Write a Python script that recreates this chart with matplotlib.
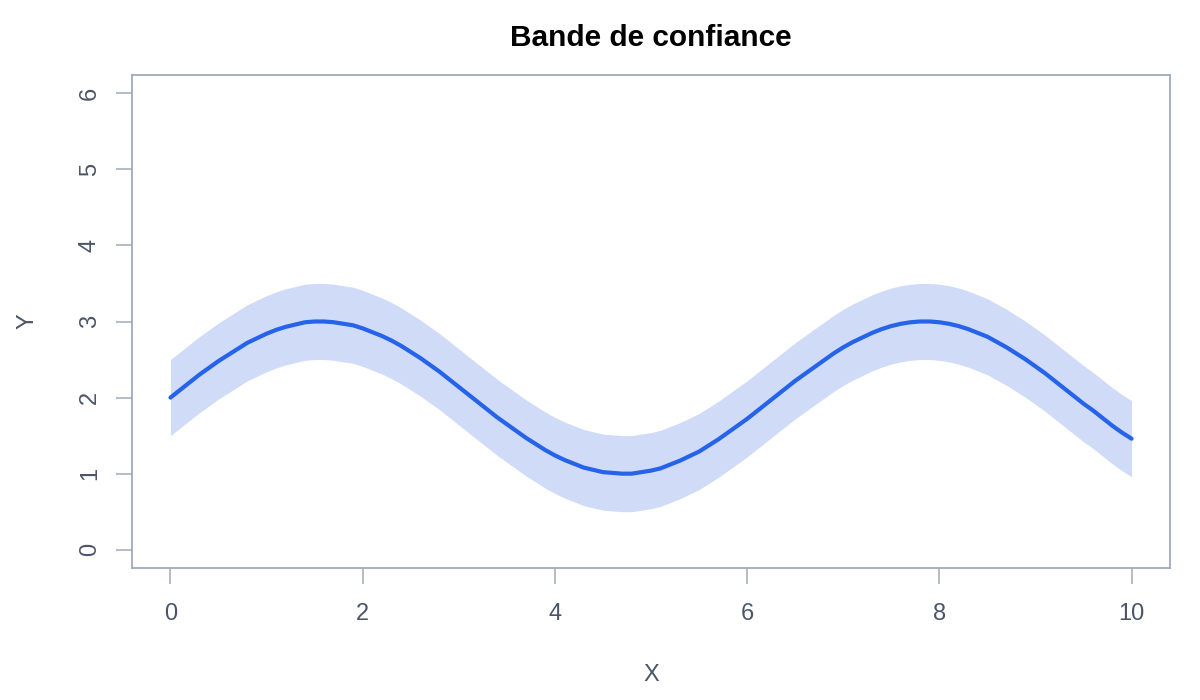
import matplotlib
matplotlib.use("Agg")
import matplotlib.pyplot as plt

plt.rcParams['font.family'] = ['Liberation Sans', 'DejaVu Sans']

x = [0.0, 0.1, 0.2, 0.3, 0.4, 0.5, 0.6, 0.7, 0.8, 0.9,
     1.0, 1.1, 1.2, 1.3, 1.4, 1.5, 1.6, 1.7, 1.8, 1.9,
     2.0, 2.1, 2.2, 2.3, 2.4, 2.5, 2.6, 2.7, 2.8, 2.9,
     3.0, 3.1, 3.2, 3.3, 3.4, 3.5, 3.6, 3.7, 3.8, 3.9,
     4.0, 4.1, 4.2, 4.3, 4.4, 4.5, 4.6, 4.7, 4.8, 4.9,
     5.0, 5.1, 5.2, 5.3, 5.4, 5.5, 5.6, 5.7, 5.8, 5.9,
     6.0, 6.1, 6.2, 6.3, 6.4, 6.5, 6.6, 6.7, 6.8, 6.9,
     7.0, 7.1, 7.2, 7.3, 7.4, 7.5, 7.6, 7.7, 7.8, 7.9,
     8.0, 8.1, 8.2, 8.3, 8.4, 8.5, 8.6, 8.7, 8.8, 8.9,
     9.0, 9.1, 9.2, 9.3, 9.4, 9.5, 9.6, 9.7, 9.8, 9.9,
     10.0]
y = [2.00, 2.10, 2.20, 2.30, 2.39, 2.48, 2.56, 2.64, 2.72, 2.78,
     2.84, 2.89, 2.93, 2.96, 2.99, 3.00, 3.00, 2.99, 2.97, 2.95,
     2.91, 2.86, 2.81, 2.75, 2.68, 2.60, 2.52, 2.43, 2.34, 2.24,
     2.14, 2.04, 1.94, 1.84, 1.74, 1.65, 1.56, 1.47, 1.39, 1.31,
     1.24, 1.18, 1.13, 1.08, 1.05, 1.02, 1.01, 1.00, 1.00, 1.02,
     1.04, 1.07, 1.12, 1.17, 1.23, 1.29, 1.37, 1.45, 1.54, 1.63,
     1.72, 1.82, 1.92, 2.02, 2.12, 2.22, 2.31, 2.40, 2.49, 2.58,
     2.66, 2.73, 2.79, 2.85, 2.90, 2.94, 2.97, 2.99, 3.00, 3.00,
     2.99, 2.97, 2.94, 2.90, 2.85, 2.80, 2.73, 2.66, 2.58, 2.50,
     2.41, 2.32, 2.22, 2.12, 2.02, 1.92, 1.83, 1.73, 1.63, 1.54,
     1.46]
lower = [1.50, 1.60, 1.70, 1.80, 1.89, 1.98, 2.06, 2.14, 2.22, 2.28,
         2.34, 2.39, 2.43, 2.46, 2.49, 2.50, 2.50, 2.49, 2.47, 2.45,
         2.41, 2.36, 2.31, 2.25, 2.18, 2.10, 2.02, 1.93, 1.84, 1.74,
         1.64, 1.54, 1.44, 1.34, 1.24, 1.15, 1.06, 0.97, 0.89, 0.81,
         0.74, 0.68, 0.63, 0.58, 0.55, 0.52, 0.51, 0.50, 0.50, 0.52,
         0.54, 0.57, 0.62, 0.67, 0.73, 0.79, 0.87, 0.95, 1.04, 1.13,
         1.22, 1.32, 1.42, 1.52, 1.62, 1.72, 1.81, 1.90, 1.99, 2.08,
         2.16, 2.23, 2.29, 2.35, 2.40, 2.44, 2.47, 2.49, 2.50, 2.50,
         2.49, 2.47, 2.44, 2.40, 2.35, 2.30, 2.23, 2.16, 2.08, 2.00,
         1.91, 1.82, 1.72, 1.62, 1.52, 1.42, 1.33, 1.23, 1.13, 1.04,
         0.96]
upper = [2.50, 2.60, 2.70, 2.80, 2.89, 2.98, 3.06, 3.14, 3.22, 3.28,
         3.34, 3.39, 3.43, 3.46, 3.49, 3.50, 3.50, 3.49, 3.47, 3.45,
         3.41, 3.36, 3.31, 3.25, 3.18, 3.10, 3.02, 2.93, 2.84, 2.74,
         2.64, 2.54, 2.44, 2.34, 2.24, 2.15, 2.06, 1.97, 1.89, 1.81,
         1.74, 1.68, 1.63, 1.58, 1.55, 1.52, 1.51, 1.50, 1.50, 1.52,
         1.54, 1.57, 1.62, 1.67, 1.73, 1.79, 1.87, 1.95, 2.04, 2.13,
         2.22, 2.32, 2.42, 2.52, 2.62, 2.72, 2.81, 2.90, 2.99, 3.08,
         3.16, 3.23, 3.29, 3.35, 3.40, 3.44, 3.47, 3.49, 3.50, 3.50,
         3.49, 3.47, 3.44, 3.40, 3.35, 3.30, 3.23, 3.16, 3.08, 3.00,
         2.91, 2.82, 2.72, 2.62, 2.52, 2.42, 2.33, 2.23, 2.13, 2.04,
         1.96]
x_ticks = [0, 2, 4, 6, 8, 10]
y_ticks = [0, 1, 2, 3, 4, 5, 6]

axis_col = '#a0aabb'
text_col = '#4a5568'

fig = plt.figure(figsize=(12, 7), dpi=100)
ax = fig.add_axes([132/1200, (700-568)/700, (1170-132)/1200, (568-75)/700])

ax.fill_between(x, lower, upper, color='#d0dbf8', linewidth=0)
ax.plot(x, y, color='#2563eb', linewidth=3.0, solid_capstyle='round', solid_joinstyle='round')

ax.set_xlim(-0.4, 10.4)
ax.set_ylim(-0.24, 6.24)
ax.set_xticks(x_ticks)
ax.set_yticks(y_ticks)
ax.set_xticklabels([str(t) for t in x_ticks])
ax.set_yticklabels([str(t) for t in y_ticks], rotation=90, va='center')

for s in ax.spines.values():
    s.set_color(axis_col)
    s.set_linewidth(1.3)
ax.tick_params(axis='both', direction='out', length=11.5, width=1.1, color=axis_col,
               labelcolor=text_col, labelsize=17)
ax.tick_params(axis='x', pad=13.5)
ax.tick_params(axis='y', pad=11)

fig.text((132 + 1170) / 2 / 1200, 1 - 38 / 700, 'Bande de confiance',
         fontsize=21.5, fontweight='bold', color='black', ha='center', va='center')
ax.set_xlabel('X', fontsize=17, color=text_col, va='center', ha='center')
ax.xaxis.set_label_coords(0.5, (568 - 675) / 493)
ax.set_ylabel('Y', fontsize=17, color=text_col, va='center', ha='center')
ax.yaxis.set_label_coords((28 - 132) / 1038, 0.5)

fig.savefig('out.png', dpi=100)
